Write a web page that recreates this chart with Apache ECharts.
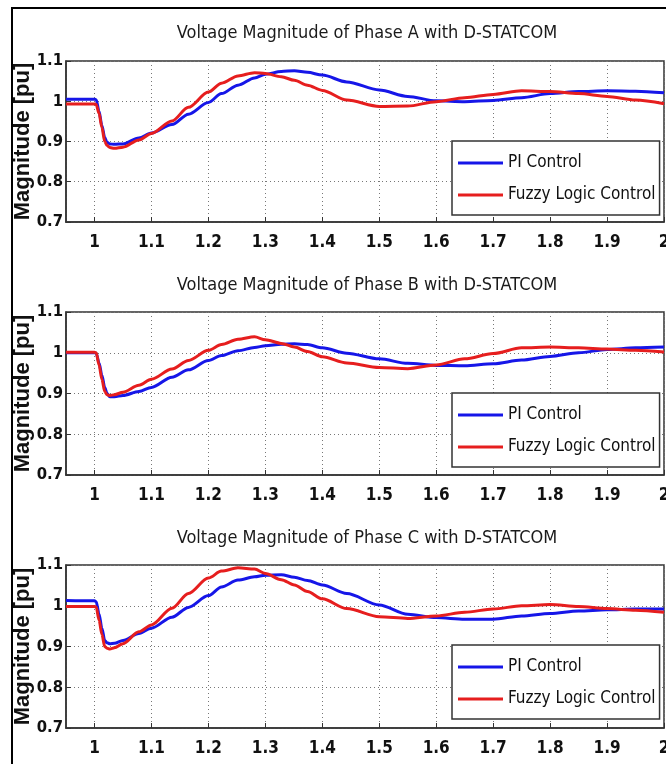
<!DOCTYPE html>
<html>
<head>
<meta charset="utf-8">
<script src="https://cdn.jsdelivr.net/npm/echarts@6/dist/echarts.min.js"></script>
<style>html,body{margin:0;padding:0;background:#fff;}#c{width:666px;height:764px;}</style>
</head>
<body>
<div id="c"></div>
<script>
// Shared time samples [s]
var time = [0.95, 1.0, 1.003, 1.008, 1.013, 1.018, 1.022, 1.027, 1.035, 1.05, 1.078, 1.1, 1.136, 1.165, 1.2, 1.223, 1.252, 1.281, 1.3, 1.328, 1.351, 1.374, 1.4, 1.443, 1.5, 1.55, 1.6, 1.65, 1.7, 1.75, 1.8, 1.85, 1.9, 1.95, 2.0];

var piA  = [1.005, 1.005, 1.004, 0.975, 0.94, 0.91, 0.898, 0.894, 0.893, 0.894, 0.909, 0.921, 0.942, 0.968, 0.997, 1.019, 1.04, 1.058, 1.067, 1.074, 1.076, 1.072, 1.065, 1.048, 1.028, 1.012, 1.001, 0.999, 1.002, 1.009, 1.019, 1.024, 1.026, 1.025, 1.021];
var flcA = [0.993, 0.993, 0.992, 0.97, 0.935, 0.9, 0.89, 0.885, 0.883, 0.886, 0.904, 0.92, 0.951, 0.985, 1.023, 1.045, 1.063, 1.071, 1.069, 1.061, 1.052, 1.04, 1.027, 1.003, 0.987, 0.988, 0.999, 1.009, 1.017, 1.026, 1.024, 1.019, 1.012, 1.003, 0.994];

var piB  = [1.0, 1.0, 0.999, 0.975, 0.945, 0.915, 0.9, 0.892, 0.892, 0.895, 0.905, 0.915, 0.94, 0.958, 0.981, 0.993, 1.005, 1.013, 1.017, 1.021, 1.022, 1.02, 1.012, 0.999, 0.985, 0.974, 0.969, 0.968, 0.973, 0.982, 0.991, 1.0, 1.008, 1.012, 1.014];
var flcB = [1.001, 1.001, 1.0, 0.97, 0.935, 0.905, 0.897, 0.895, 0.897, 0.903, 0.92, 0.935, 0.96, 0.981, 1.006, 1.02, 1.033, 1.039, 1.032, 1.023, 1.014, 1.003, 0.99, 0.975, 0.964, 0.961, 0.97, 0.985, 0.998, 1.012, 1.014, 1.012, 1.009, 1.006, 1.002];

var piC  = [1.013, 1.012, 1.01, 0.98, 0.945, 0.915, 0.909, 0.907, 0.908, 0.915, 0.932, 0.945, 0.972, 0.996, 1.025, 1.046, 1.063, 1.071, 1.075, 1.076, 1.07, 1.062, 1.051, 1.03, 1.002, 0.979, 0.971, 0.967, 0.967, 0.975, 0.981, 0.987, 0.99, 0.992, 0.992];
var flcC = [0.998, 0.998, 0.997, 0.965, 0.93, 0.9, 0.896, 0.894, 0.897, 0.907, 0.936, 0.953, 0.994, 1.03, 1.068, 1.085, 1.093, 1.09, 1.079, 1.064, 1.051, 1.035, 1.017, 0.993, 0.973, 0.969, 0.975, 0.984, 0.992, 1.0, 1.003, 0.998, 0.993, 0.989, 0.984];

var titles = ['Voltage Magnitude of Phase A with D-STATCOM', 'Voltage Magnitude of Phase B with D-STATCOM', 'Voltage Magnitude of Phase C with D-STATCOM'];
var seriesNames = ['PI Control', 'Fuzzy Logic Control'];
var yLabel = 'Magnitude [pu]';
var phases = [[piA, flcA], [piB, flcB], [piC, flcC]];

function pairs(ys) { return time.map(function (t, i) { return [t, ys[i]]; }); }

var gridTops = [61, 312, 565];
var gridHeights = [161, 163, 163];
var titleTops = [19, 271, 524];
var legendTops = [141, 393, 645];
var colors = ['#1616e8', '#e61e1e'];
var narrow = "'DejaVu Sans Condensed', 'Liberation Sans', Arial, sans-serif";

var option = {
  backgroundColor: '#fff',
  animation: false,
  title: [], grid: [], xAxis: [], yAxis: [], series: [], legend: [],
  graphic: [{
    type: 'rect', z: 100, silent: true,
    shape: { x: 12, y: 8, width: 700, height: 800 },
    style: { fill: 'none', stroke: '#000', lineWidth: 2 }
  }]
};

for (var g = 0; g < 3; g++) {
  option.title.push({
    text: titles[g], left: 362, top: titleTops[g], textAlign: 'center',
    textStyle: { fontFamily: narrow, fontSize: 18, fontWeight: 'normal', color: '#1a1a1a' }
  });
  option.grid.push({
    left: 66, width: 598, top: gridTops[g], height: gridHeights[g],
    outerBoundsMode: 'none', containLabel: false,
    show: true, borderColor: '#333', borderWidth: 1.5, backgroundColor: '#fff'
  });
  option.xAxis.push({
    type: 'value', gridIndex: g, min: 0.95, max: 2, splitNumber: 10,
    axisLine: { show: true, lineStyle: { color: '#333', width: 1.5 } },
    axisTick: { show: true, inside: true, length: 5, lineStyle: { color: '#333' } },
    axisLabel: { showMinLabel: false, margin: 12, fontFamily: narrow, fontSize: 17, fontWeight: 'bold', color: '#111' },
    splitLine: { show: true, lineStyle: { type: [1, 3], color: '#777', width: 1 } }
  });
  option.yAxis.push({
    type: 'value', gridIndex: g, min: 0.7, max: 1.1, interval: 0.1,
    name: yLabel, nameLocation: 'middle', nameGap: 32, nameMoveOverlap: false,
    nameTextStyle: { fontFamily: "'Liberation Sans', Arial, sans-serif", fontSize: 22, fontWeight: 'bold', color: '#111' },
    axisLine: { show: true, lineStyle: { color: '#333', width: 1.5 } },
    axisTick: { show: true, inside: true, length: 5, lineStyle: { color: '#333' } },
    axisLabel: { margin: 3, fontFamily: narrow, fontSize: 16.5, fontWeight: 'bold', color: '#111',
      formatter: function (v) { return String(Math.round(v * 10) / 10); } },
    splitLine: { show: true, lineStyle: { type: [1, 3], color: '#777', width: 1 } }
  });
  for (var s = 0; s < 2; s++) {
    option.series.push({
      name: seriesNames[s], type: 'line', xAxisIndex: g, yAxisIndex: g,
      data: pairs(phases[g][s]), symbol: 'none', smooth: 0.3, smoothMonotone: 'x',
      lineStyle: { color: colors[s], width: 3 }, itemStyle: { color: colors[s] }, z: 2 + s
    });
  }
  option.legend.push({
    data: seriesNames, orient: 'vertical', left: 452, top: legendTops[g],
    padding: [12, 4, 10, 6], itemGap: 12, itemWidth: 45, itemHeight: 3, icon: 'rect',
    backgroundColor: '#fff', borderColor: '#333', borderWidth: 1.5, borderRadius: 0,
    selectedMode: false,
    textStyle: { fontFamily: narrow, fontSize: 17, color: '#111', lineHeight: 20 }
  });
}

var chart = echarts.init(document.getElementById('c'), null, { renderer: 'canvas' });
chart.setOption(option);
</script>
</body>
</html>
